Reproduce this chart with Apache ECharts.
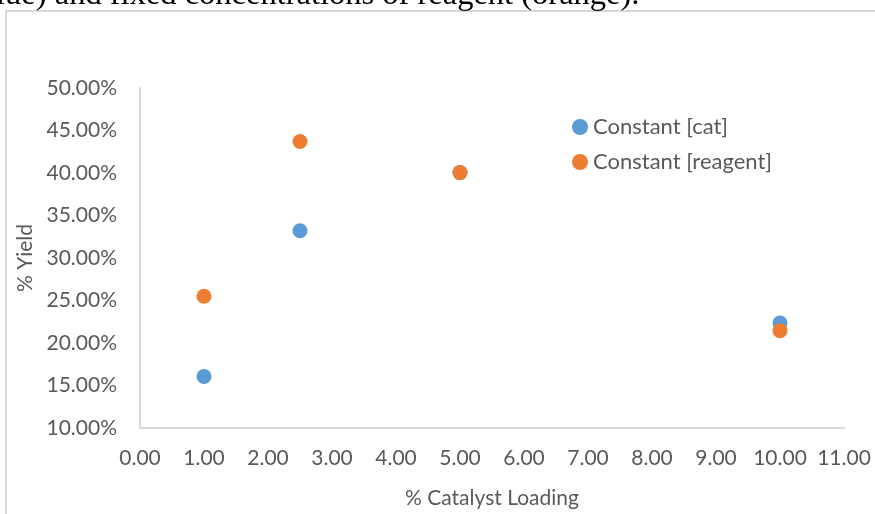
<!DOCTYPE html>
<html lang="en">
<head>
    <meta charset="utf-8">
    <title>% Yield vs % Catalyst Loading</title>
    <script src="https://cdn.jsdelivr.net/npm/echarts@6/dist/echarts.min.js"></script>
    <style>
        html, body { margin: 0; padding: 0; background: #fff; }
        #chart { width: 875px; height: 514px; }
    </style>
</head>
<body>
    <div id="chart"></div>
    <script>
        // data (x = % catalyst loading, y = % yield)
        var loading = [1, 2.5, 5, 10];
        var yieldCat = [16.07, 33.2, 40.05, 22.35];      // constant [cat]
        var yieldReagent = [25.5, 43.7, 40.05, 21.45];   // constant [reagent]
        var seriesNames = ['Constant [cat]', 'Constant [reagent]'];
        var caption = '(blue) and fixed concentrations of reagent (orange).';

        function pairs(xs, ys) {
            return xs.map(function (x, i) { return [x, ys[i]]; });
        }

        var chart = echarts.init(document.getElementById('chart'));
        var labelColor = '#595959';
        var font = 'Lato';

        var option = {
            animation: false,
            backgroundColor: '#fff',
            graphic: [{
                type: 'rect',
                shape: { x: 6, y: 11, width: 900, height: 600 },
                style: { fill: 'none', stroke: '#d9d9d9', lineWidth: 2 }
            }, {
                type: 'text',
                left: -31,
                top: -21,
                style: {
                    text: caption,
                    font: '32.5px "Liberation Serif"',
                    fill: '#000'
                }
            }],
            grid: { left: 140, right: 31, top: 88, bottom: 86 },
            legend: {
                data: seriesNames,
                orient: 'vertical',
                left: 567,
                top: 111,
                itemGap: 13,
                itemWidth: 16,
                itemHeight: 16,
                icon: 'circle',
                textStyle: { color: labelColor, fontFamily: font, fontSize: 22 }
            },
            xAxis: {
                type: 'value',
                min: 0,
                max: 11,
                interval: 1,
                name: '% Catalyst Loading',
                nameLocation: 'middle',
                nameGap: 60,
                nameTextStyle: { color: labelColor, fontFamily: font, fontSize: 21 },
                axisLine: { show: true, lineStyle: { color: '#d9d9d9', width: 2 } },
                axisTick: { show: false },
                splitLine: { show: false },
                axisLabel: {
                    color: labelColor, fontFamily: font, fontSize: 21, margin: 20,
                    formatter: function (v) { return v.toFixed(2); }
                }
            },
            yAxis: {
                type: 'value',
                min: 10,
                max: 50,
                interval: 5,
                name: '% Yield',
                nameLocation: 'middle',
                nameGap: 97,
                nameTextStyle: { color: labelColor, fontFamily: font, fontSize: 21 },
                axisLine: { show: true, lineStyle: { color: '#d9d9d9', width: 2 } },
                axisTick: { show: false },
                splitLine: { show: false },
                axisLabel: {
                    color: labelColor, fontFamily: font, fontSize: 21, margin: 23,
                    formatter: function (v) { return v.toFixed(2) + '%'; }
                }
            },
            series: [{
                name: seriesNames[0],
                type: 'scatter',
                symbolSize: 15,
                itemStyle: { color: '#5b9bd5', opacity: 1 },
                data: pairs(loading, yieldCat)
            }, {
                name: seriesNames[1],
                type: 'scatter',
                symbolSize: 15,
                itemStyle: { color: '#ed7d31', opacity: 1 },
                data: pairs(loading, yieldReagent)
            }]
        };

        chart.setOption(option, true);
    </script>
</body>
</html>
